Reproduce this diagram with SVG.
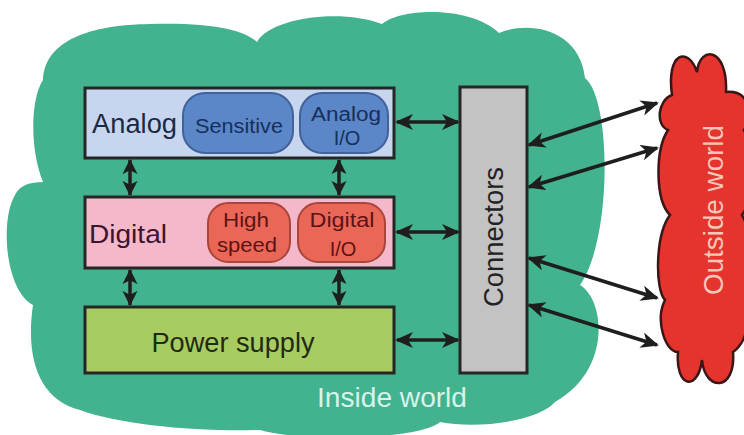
<svg xmlns="http://www.w3.org/2000/svg" width="744" height="435" viewBox="0 0 744 435">
<defs>
<style>
text{font-family:"Liberation Sans",Arial,sans-serif;}
.box{stroke:#262626;stroke-width:3;}
.pb{fill:#5b86c7;stroke:#41629b;stroke-width:2;}
.pr{fill:#ea6656;stroke:#a9463c;stroke-width:2;}
.tb{fill:#16305c;font-size:20px;text-anchor:middle;}
.tr{fill:#5a1418;font-size:20px;text-anchor:middle;}
.arr{stroke:#1e1e1e;stroke-width:3.5;fill:none;marker-start:url(#ah);marker-end:url(#ah);}
.varr{stroke:#1e1e1e;stroke-width:3.5;fill:none;marker-start:url(#ahs);marker-end:url(#ahs);}
</style>
<marker id="ah" viewBox="0 0 18 16" refX="16" refY="8" markerWidth="18" markerHeight="16" markerUnits="userSpaceOnUse" orient="auto-start-reverse">
<path d="M0,0 L18,8 L0,16 L5,8 z" fill="#1e1e1e"/>
</marker>
<marker id="ahs" viewBox="0 0 16 16" refX="15" refY="8" markerWidth="15" markerHeight="16" markerUnits="userSpaceOnUse" orient="auto-start-reverse">
<path d="M0,0 L16,8 L0,16 L4,8 z" fill="#1e1e1e"/>
</marker>
</defs>
<rect width="744" height="435" fill="#ffffff"/>

<g id="inside-world">
<path d="M43,80 C45,40 90,25 150,24 C210,22 245,30 257,42 C270,18 340,8 382,24 C400,8 470,5 499,33 C530,20 580,30 585,78 C612,100 612,240 580,285 C605,300 612,370 555,402 C540,420 480,430 440,422 C420,440 300,442 260,430 C200,432 120,425 80,410 C40,400 25,360 33,305 C5,290 0,220 15,195 C20,185 30,182 43,182 C30,150 30,100 43,80 Z" fill="#43b28e"/>
<text x="317" y="407" font-size="28" fill="#d6f3ec" textLength="150" lengthAdjust="spacingAndGlyphs">Inside world</text>
</g>

<g id="outside-world">
<path d="M697,72 C688,46 666,52 672,95 C658,100 655,125 668,130 C655,150 655,200 670,215 C655,235 655,290 665,300 C655,320 665,352 678,352 C675,388 698,392 702,360 C705,392 736,392 733,352 C748,342 752,312 746,300 C754,280 754,235 742,215 C754,200 754,150 744,130 C754,115 750,90 726,92 C728,48 700,44 697,72 Z" fill="#e5332e" stroke="#3a1616" stroke-width="2.5"/>
<text transform="translate(723,210) rotate(-90)" font-size="28" fill="#f7c6b6" text-anchor="middle" textLength="170" lengthAdjust="spacingAndGlyphs">Outside world</text>
</g>

<g id="analog">
<rect class="box" x="85" y="88" width="309" height="70" fill="#c7d5ef"/>
<text x="92" y="133" font-size="27" fill="#1b2a44" textLength="85" lengthAdjust="spacingAndGlyphs">Analog</text>
</g>
<g id="sensitive">
<rect class="pb" x="183" y="93" width="110" height="60" rx="22"/>
<text class="tb" x="239" y="133" font-size="21" textLength="88" lengthAdjust="spacingAndGlyphs">Sensitive</text>
</g>
<g id="analog-io">
<rect class="pb" x="300" y="93" width="88" height="60" rx="22"/>
<text class="tb" x="346" y="121" textLength="70" lengthAdjust="spacingAndGlyphs">Analog</text>
<text class="tb" x="347" y="145">I/O</text>
</g>

<g id="digital">
<rect class="box" x="85" y="197" width="309" height="71" fill="#f5b8cb"/>
<text x="89" y="243" font-size="26" fill="#3b1530" textLength="78" lengthAdjust="spacingAndGlyphs">Digital</text>
</g>
<g id="high-speed">
<rect class="pr" x="208" y="203" width="82" height="59" rx="20"/>
<text class="tr" x="246" y="227" textLength="46" lengthAdjust="spacingAndGlyphs">High</text>
<text class="tr" x="247" y="252" textLength="60" lengthAdjust="spacingAndGlyphs">speed</text>
</g>
<g id="digital-io">
<rect class="pr" x="298" y="203" width="87" height="59" rx="20"/>
<text class="tr" x="342" y="227" textLength="65" lengthAdjust="spacingAndGlyphs">Digital</text>
<text class="tr" x="343" y="256">I/O</text>
</g>

<g id="power-supply">
<rect class="box" x="85" y="307" width="309" height="66" fill="#a8cb62"/>
<text x="233" y="352" font-size="27" fill="#1f2b12" text-anchor="middle" textLength="163" lengthAdjust="spacingAndGlyphs">Power supply</text>
</g>

<g id="connectors">
<rect class="box" x="460" y="87" width="67" height="286" fill="#c3c3c4"/>
<text transform="translate(503,237) rotate(-90)" font-size="27" fill="#222222" text-anchor="middle" textLength="140" lengthAdjust="spacingAndGlyphs">Connectors</text>
</g>

<g id="connectors-lines">
<line class="varr" x1="130" y1="160" x2="130" y2="195"/>
<line class="varr" x1="339" y1="160" x2="339" y2="195"/>
<line class="varr" x1="130" y1="270" x2="130" y2="305"/>
<line class="varr" x1="339" y1="270" x2="339" y2="305"/>
<line class="arr" x1="397" y1="122" x2="458" y2="122"/>
<line class="arr" x1="397" y1="232" x2="458" y2="232"/>
<line class="arr" x1="397" y1="340" x2="458" y2="340"/>
<line class="arr" x1="529" y1="145" x2="657" y2="103"/>
<line class="arr" x1="529" y1="187" x2="657" y2="148"/>
<line class="arr" x1="529" y1="258" x2="657" y2="298"/>
<line class="arr" x1="529" y1="305" x2="657" y2="345"/>
</g>
</svg>
